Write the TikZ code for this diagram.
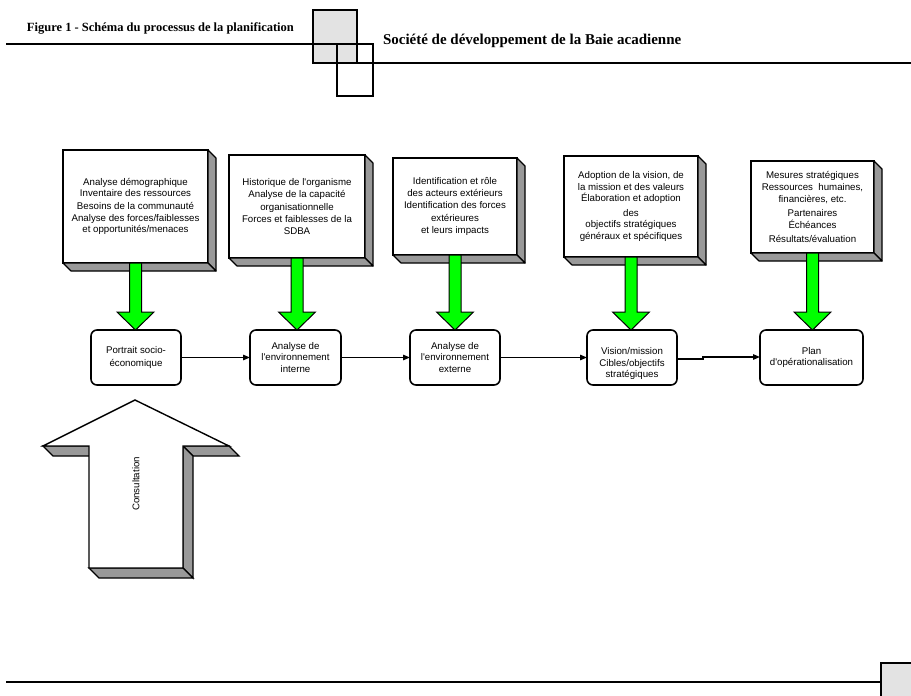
\documentclass[tikz,border=0pt]{standalone}
\usepackage{fontspec}
\setmainfont{Liberation Serif}
\setsansfont{Liberation Sans}
\usetikzlibrary{arrows.meta,calc}
\definecolor{sidegray}{HTML}{999999}
\definecolor{hdrgray}{HTML}{E3E3E3}
\definecolor{arrgreen}{HTML}{00FF00}
\newcommand\sdbaextrude[1]{%
  \draw[side] (#1.north east) -- ++(8,8) -- ($(#1.south east)+(8,8)$) -- (#1.south east) -- cycle;
  \draw[side] (#1.south west) -- (#1.south east) -- ++(8,8) -- ($(#1.south west)+(8,8)$) -- cycle;}
\newcommand\sdbagreen[2]{%
  \coordinate (#1tip) at (#1.south |- #2.north);
  \draw[garrow] ($(#1.south)+(-6,0)$) -- ($(#1tip)+(-6,-18)$) -- ($(#1tip)+(-18.5,-18)$) -- (#1tip)
    -- ($(#1tip)+(18.5,-18)$) -- ($(#1tip)+(6,-18)$) -- ($(#1.south)+(6,0)$) -- cycle;}
\begin{document}
\begin{tikzpicture}[x=1pt,y=-1pt,
  every node/.style={inner sep=0pt, outer sep=0pt},
  txt/.style={align=center, font=\sffamily\fontsize{9.7}{11.7}\selectfont},
  front/.style={draw, line width=1.6pt, fill=white, txt},
  side/.style={draw, line width=1.2pt, fill=sidegray, line join=round},
  rbox/.style={draw, line width=1.6pt, rounded corners=6pt, fill=white, minimum height=55pt, txt},
  garrow/.style={draw, line width=1pt, fill=arrgreen, line join=miter},
  conn/.style={line width=1.3pt, -{Triangle[length=7pt,width=5.5pt]}},
  hdrline/.style={line width=1.5pt},
  bigface/.style={draw, line width=1.4pt, line join=miter},
]
\useasboundingbox (0,0) rectangle (911,696);

% ---------- header ----------
\filldraw[hdrline, fill=hdrgray] (313,10) rectangle (357,63);
\draw[hdrline] (6,44) -- (373,44);
\draw[hdrline] (357,63) -- (911,63);
\draw[hdrline] (337,44) rectangle (373,96);
\node[anchor=base west, font=\bfseries\fontsize{12.5}{14}\selectfont] (fig) at (27,31)
  {Figure 1 - Schéma du processus de la planification};
\node[anchor=base west, font=\bfseries\fontsize{15}{17}\selectfont] (soc) at (383,45)
  {Société de développement de la Baie acadienne};

% ---------- footer ----------
\draw[hdrline] (6,682) -- (881,682);
\filldraw[hdrline, fill=hdrgray] (881,663) rectangle (916,702);

% ---------- top boxes ----------
\node[front, minimum width=145pt, minimum height=113pt] (B1) at (135.5,206.5)
  {Analyse démographique\\Inventaire des ressources\\[1pt]Besoins de la communauté\\Analyse des forces/faiblesses\\et opportunités/menaces};
\node[front, minimum width=136pt, minimum height=103pt] (B2) at (297,206.5)
  {Historique de l\textquotesingle organisme\\Analyse de la capacité\\[2pt]organisationnelle\\Forces et faiblesses de la\\SDBA};
\node[front, minimum width=124pt, minimum height=97pt] (B3) at (455,206.5)
  {Identification et rôle\\des acteurs extérieurs\\Identification des forces\\[2pt]extérieures\\et leurs impacts};
\node[front, minimum width=134pt, minimum height=101pt] (B4) at (631,206.5)
  {Adoption de la vision, de\\la mission et des valeurs\\Élaboration et adoption\\[2.5pt]des\\objectifs stratégiques\\généraux et spécifiques};
\node[front, minimum width=123pt, minimum height=92pt] (B5) at (812.5,207)
  {Mesures stratégiques\\Ressources\ \ humaines,\\financières, etc.\\[2.5pt]Partenaires\\Échéances\\[2.5pt]Résultats/évaluation};
\foreach \b in {B1,B2,B3,B4,B5} {\sdbaextrude{\b}}

% ---------- rounded boxes ----------
\node[rbox, minimum width=90pt] (R1) at (136,357.5) {Portrait socio-\\[1pt]économique};
\node[rbox, minimum width=91pt] (R2) at (295.5,357.5) {Analyse de\\l\textquotesingle environnement\\interne};
\node[rbox, minimum width=90pt] (R3) at (455,357.5) {Analyse de\\l\textquotesingle environnement\\externe};
\node[rbox, minimum width=90pt] (R4) at (632,357.5) {};
\node[txt] (R4t) at ($(R4.center)+(0,6)$) {Vision/mission\\Cibles/objectifs\\stratégiques};
\node[rbox, minimum width=103pt] (R5) at (811.5,357.5) {Plan\\d\textquotesingle opérationalisation};

% ---------- connectors ----------
\draw[conn] (R1) -- (R2);
\draw[conn] (R2) -- (R3);
\draw[conn] (R3) -- (R4);
\draw[conn] ($(R4.east)+(0,1.5)$) -- ++(26,0) -- ++(0,-2) -- ($(R5.west)+(0,-0.5)$);

% ---------- green arrows ----------
\sdbagreen{B1}{R1}
\sdbagreen{B2}{R2}
\sdbagreen{B3}{R3}
\sdbagreen{B4}{R4}
\sdbagreen{B5}{R5}

% ---------- big consultation arrow ----------
\draw[bigface, fill=sidegray] (43,446) -- (89,446) -- (99,456) -- (53,456) -- cycle;
\draw[bigface, fill=sidegray] (183,446) -- (229,446) -- (239,456) -- (193,456) -- cycle;
\draw[bigface, fill=sidegray] (183,446) -- (193,456) -- (193,578) -- (183,568) -- cycle;
\draw[bigface, fill=sidegray] (89,568) -- (183,568) -- (193,578) -- (99,578) -- cycle;
\draw[bigface, fill=white] (135,400) -- (229,446) -- (183,446) -- (183,568) -- (89,568) -- (89,446) -- (43,446) -- cycle;
\node[txt, rotate=90] (cons) at (136,484) {Consultation};
\end{tikzpicture}
\end{document}
